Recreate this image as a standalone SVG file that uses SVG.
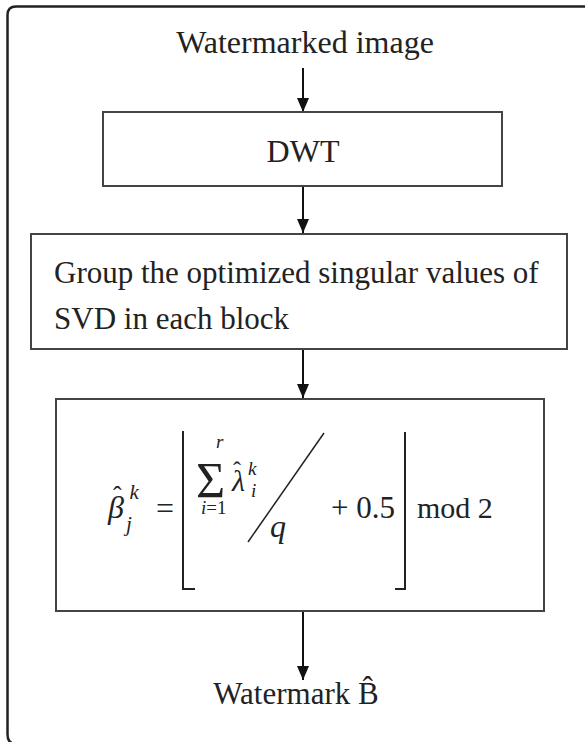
<svg xmlns="http://www.w3.org/2000/svg" width="585" height="742" viewBox="0 0 585 742">
<defs>
<marker id="ah" viewBox="0 0 14 12" refX="14" refY="6" markerWidth="14" markerHeight="12" markerUnits="userSpaceOnUse" orient="auto">
<path d="M0,0 L14,6 L0,12 Z" fill="#111"/>
</marker>
<style>
.t{font-family:"Liberation Serif","Times New Roman",serif;fill:#222}
.i{font-style:italic}
.box{fill:#fff;stroke:#444;stroke-width:2}
.c{stroke:#111;stroke-width:2;fill:none}
</style>
</defs>
<rect width="585" height="742" fill="#fff"/>
<path d="M585,6.5 H16 Q7.5,6.5 7.5,15 V734 Q7.5,744 16,744 H585" fill="none" stroke="#222" stroke-width="2.5"/>
<g id="connectors">
<line class="c" x1="303" y1="68" x2="303" y2="112" marker-end="url(#ah)"/>
<line class="c" x1="303" y1="186" x2="303" y2="233" marker-end="url(#ah)"/>
<line class="c" x1="303" y1="349" x2="303" y2="398" marker-end="url(#ah)"/>
<line class="c" x1="303" y1="611" x2="303" y2="680" marker-end="url(#ah)"/>
</g>
<g id="input">
<text class="t" x="305" y="53" font-size="32" text-anchor="middle">Watermarked image</text>
</g>
<g id="dwt">
<rect class="box" x="103" y="112" width="399" height="74"/>
<text class="t" x="303" y="162" font-size="32" text-anchor="middle">DWT</text>
</g>
<g id="group">
<rect class="box" x="31" y="234" width="536" height="115"/>
<text class="t" x="54" y="283" font-size="31">Group the optimized singular values of</text>
<text class="t" x="54" y="329" font-size="31">SVD in each block</text>
</g>
<g id="formula">
<rect class="box" x="56" y="399" width="488" height="212"/>
<text class="t i" x="108" y="518" font-size="32">β<tspan font-style="normal" font-size="26" dx="-11" dy="-14">ˆ</tspan><tspan font-size="21" dx="8" dy="-5">k</tspan><tspan font-size="21" x="126" y="531">j</tspan></text>
<text class="t" x="156" y="519" font-size="32">=</text>
<path d="M183,431 V589 H195" fill="none" stroke="#222" stroke-width="2"/>
<path d="M405,432 V589 H395" fill="none" stroke="#222" stroke-width="2"/>
<text class="t" x="196" y="497" font-size="50">Σ<tspan font-style="italic" font-size="19" x="216" y="448">r</tspan><tspan font-size="19" x="201" y="514"><tspan font-style="italic">i</tspan>=1</tspan></text>
<text class="t i" x="232" y="491" font-size="30">λ<tspan font-style="normal" font-size="24" dx="-12" dy="-13">ˆ</tspan><tspan font-size="19" dx="7" dy="-3">k</tspan><tspan font-size="19" x="251" y="497">i</tspan></text>
<line x1="248" y1="542" x2="324" y2="433" stroke="#222" stroke-width="1.5"/>
<text class="t i" x="270" y="537" font-size="32">q</text>
<text class="t" x="331" y="518" font-size="31">+ 0.5</text>
<text class="t" x="417" y="518" font-size="30">mod 2</text>
</g>
<g id="output">
<text class="t" x="296" y="704" font-size="31" text-anchor="middle">Watermark B̂</text>
</g>
</svg>
